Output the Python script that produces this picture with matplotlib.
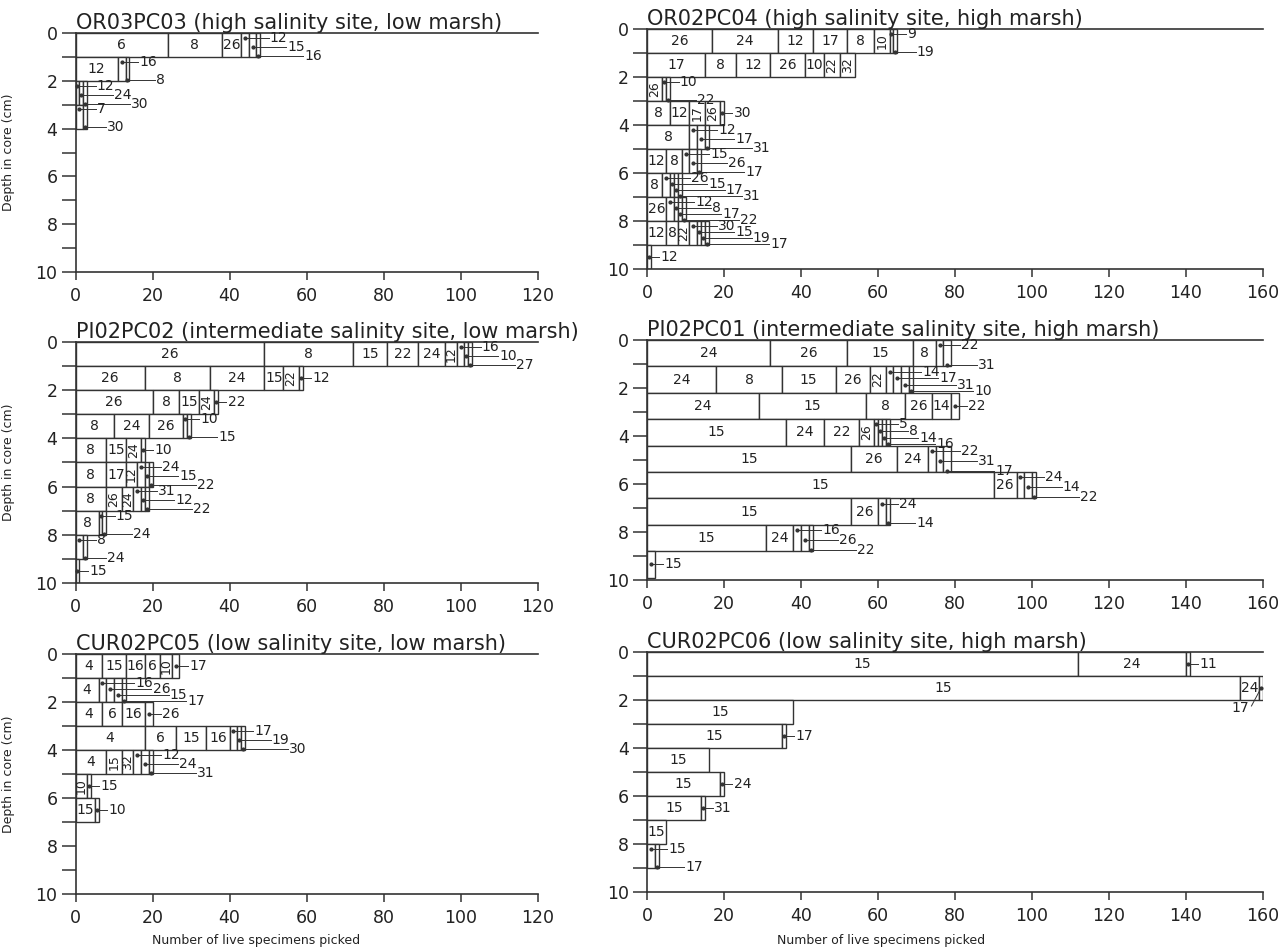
import matplotlib
matplotlib.use('Agg')
import matplotlib.pyplot as plt
from matplotlib.patches import Rectangle

plt.rcParams['font.family'] = ['DejaVu Sans']

# ---------------------------------------------------------------------------
# data: every core is a list of depth rows; each row has species codes and the
# number of live specimens picked for each species
# ---------------------------------------------------------------------------
or03pc03_top = [0, 1, 2, 3]
or03pc03_species = [[6, 8, 26, 12, 15, 16], [12, 16, 8], [12, 24, 30], [7, 30]]
or03pc03_counts = [[24, 14, 5, 2, 2, 1], [11, 2, 1], [1, 1, 1], [2, 1]]

or02pc04_top = [0, 1, 2, 3, 4, 5, 6, 7, 8, 9]
or02pc04_species = [[26, 24, 12, 17, 8, 10, 9, 19],
                    [17, 8, 12, 26, 10, 22, 32],
                    [26, 10, 22],
                    [8, 12, 17, 26, 30],
                    [8, 12, 17, 31],
                    [12, 8, 15, 26, 17],
                    [8, 26, 15, 17, 31],
                    [26, 12, 8, 17, 22],
                    [12, 8, 22, 30, 15, 19, 17],
                    [12]]
or02pc04_counts = [[17, 17, 9, 9, 7, 4, 1, 1],
                   [15, 8, 9, 9, 5, 4, 4],
                   [4, 1, 1],
                   [6, 5, 4, 4, 1],
                   [11, 2, 2, 1],
                   [5, 4, 2, 2, 1],
                   [4, 2, 1, 1, 1],
                   [5, 2, 1, 1, 1],
                   [5, 3, 3, 2, 1, 1, 1],
                   [1]]

pi02pc02_top = [0, 1, 2, 3, 4, 5, 6, 7, 8, 9]
pi02pc02_species = [[26, 8, 15, 22, 24, 12, 16, 10, 27],
                    [26, 8, 24, 15, 22, 12],
                    [26, 8, 15, 24, 22],
                    [8, 24, 26, 10, 15],
                    [8, 15, 24, 10],
                    [8, 17, 12, 24, 15, 22],
                    [8, 26, 24, 31, 12, 22],
                    [8, 15, 24],
                    [8, 24],
                    [15]]
pi02pc02_counts = [[49, 23, 9, 8, 7, 3, 2, 1, 1],
                   [18, 17, 14, 5, 4, 1],
                   [20, 7, 5, 4, 1],
                   [10, 9, 9, 1, 1],
                   [8, 5, 4, 1],
                   [8, 5, 3, 2, 1, 1],
                   [8, 4, 3, 2, 1, 1],
                   [6, 1, 1],
                   [2, 1],
                   [1]]

# this core was drawn with nine slices spread over the 10 cm
pi02pc01_top = [0, 1.1, 2.2, 3.3, 4.4, 5.5, 6.6, 7.7, 8.8]
pi02pc01_species = [[24, 26, 15, 8, 22, 31],
                    [24, 8, 15, 26, 22, 14, 17, 31, 10],
                    [24, 15, 8, 26, 14, 22],
                    [15, 24, 22, 26, 5, 8, 14, 16],
                    [15, 26, 24, 22, 31, 17],
                    [15, 26, 24, 14, 22],
                    [15, 26, 24, 14],
                    [15, 24, 16, 26, 22],
                    [15]]
pi02pc01_counts = [[32, 20, 17, 6, 2, 2],
                   [18, 17, 14, 9, 4, 2, 2, 2, 1],
                   [29, 28, 10, 7, 5, 2],
                   [36, 10, 9, 4, 1, 1, 1, 1],
                   [53, 12, 8, 2, 2, 2],
                   [90, 6, 2, 2, 1],
                   [53, 7, 2, 1],
                   [31, 7, 2, 2, 1],
                   [2]]

cur02pc05_top = [0, 1, 2, 3, 4, 5, 6]
cur02pc05_species = [[4, 15, 16, 6, 10, 17],
                     [4, 16, 26, 15, 17],
                     [4, 6, 16, 26],
                     [4, 6, 15, 16, 17, 19, 30],
                     [4, 15, 32, 12, 24, 31],
                     [10, 15],
                     [15, 10]]
cur02pc05_counts = [[7, 6, 5, 4, 3, 2],
                    [6, 2, 2, 2, 1],
                    [7, 5, 6, 2],
                    [18, 8, 8, 6, 2, 1, 1],
                    [8, 4, 3, 2, 2, 1],
                    [3, 1],
                    [5, 1]]

cur02pc06_top = [0, 1, 2, 3, 4, 5, 6, 7, 8]
cur02pc06_species = [[15, 24, 11], [15, 24, 17], [15], [15, 17], [15],
                     [15, 24], [15, 31], [15], [15, 17]]
cur02pc06_counts = [[112, 28, 1], [154, 5, 1], [38], [35, 1], [16],
                    [19, 1], [14, 1], [5], [2, 1]]

titles = ['OR03PC03 (high salinity site, low marsh)',
          'OR02PC04 (high salinity site, high marsh)',
          'PI02PC02 (intermediate salinity site, low marsh)',
          'PI02PC01 (intermediate salinity site, high marsh)',
          'CUR02PC05 (low salinity site, low marsh)',
          'CUR02PC06 (low salinity site, high marsh)']

LINE = '#333333'
INK = '#222222'


def draw_core(ax, tops, thick, species, counts, xmax):
    '''stacked boxes for one core, small ones get a leader label'''
    for top, sp_row, n_row in zip(tops, species, counts):
        left = 0
        leaders = []
        for sp, n in zip(sp_row, n_row):
            ax.add_patch(Rectangle((left, top), n, thick, facecolor='white',
                                   edgecolor=LINE, linewidth=1.0))
            lab = str(sp)
            cx = left + n / 2
            cy = top + thick / 2
            flat_room = 2.5 if len(lab) == 1 else 4.5
            if n >= flat_room:
                ax.text(cx, cy, lab, ha='center', va='center', fontsize=10,
                        color=INK)
            elif len(lab) == 2 and n >= 3:
                ax.text(cx, cy, lab, ha='center', va='center', fontsize=9,
                        color=INK, rotation=90)
            else:
                leaders.append((cx, lab))
            left += n
        end = left
        k = len(leaders)
        tx = end + 2.5
        for i, (cx, lab) in enumerate(leaders):
            if k == 1:
                y = top + thick * 0.5
            else:
                y = top + thick * (0.2 + 0.75 * i / (k - 1))
            w = 1.9 * len(lab)
            if tx + w > xmax + 2:
                # no room on the right: put it under the bar
                ax.plot([cx], [y], 'o', color=LINE, markersize=2, clip_on=False)
                ax.plot([cx, cx - 2.5], [y, top + thick * 1.25], color=LINE,
                        linewidth=0.7, clip_on=False)
                ax.text(cx - 3, top + thick * 1.35, lab, ha='right', va='center',
                        fontsize=10, color=INK, clip_on=False)
                continue
            ax.plot([cx], [y], 'o', color=LINE, markersize=2, clip_on=False)
            ax.plot([cx, tx - 0.3], [y, y], color=LINE, linewidth=0.7,
                    clip_on=False)
            ax.text(tx, y, lab, ha='left', va='center', fontsize=10, color=INK,
                    clip_on=False)
            tx += w + 0.7


def style_axes(ax, xmax, title):
    ax.set_xlim(0, xmax)
    ax.set_ylim(10, 0)
    ax.set_xticks(range(0, xmax + 1, 20))
    ax.set_yticks([0, 2, 4, 6, 8, 10])
    ax.set_yticks(range(0, 11), minor=True)
    ax.spines['right'].set_visible(False)
    for s in ['top', 'left', 'bottom']:
        ax.spines[s].set_linewidth(1.2)
        ax.spines[s].set_color(LINE)
    ax.tick_params(axis='y', which='both', direction='out', length=10,
                   width=1.1, colors=LINE, labelsize=12.5, labelcolor=INK, pad=3)
    ax.tick_params(axis='x', direction='out', length=6, width=1.1, colors=LINE,
                   labelsize=12.5, labelcolor=INK, pad=5)
    ax.set_title(title, loc='left', fontsize=15, color=INK, pad=2)


fig = plt.figure(figsize=(12.86, 9.48), dpi=100)
W, H = 1286.0, 948.0


def frame(x0, y0, x1, y1):
    return fig.add_axes([x0 / W, 1 - y1 / H, (x1 - x0) / W, (y1 - y0) / H])


axes = [frame(75.5, 33, 537.5, 272), frame(647, 29, 1263, 269),
        frame(75.5, 342, 537.5, 583), frame(647, 340, 1263, 580),
        frame(75.5, 654, 537.5, 894), frame(647, 652, 1263, 892)]

cores = [(or03pc03_top, 1, or03pc03_species, or03pc03_counts, 120),
         (or02pc04_top, 1, or02pc04_species, or02pc04_counts, 160),
         (pi02pc02_top, 1, pi02pc02_species, pi02pc02_counts, 120),
         (pi02pc01_top, 1.1, pi02pc01_species, pi02pc01_counts, 160),
         (cur02pc05_top, 1, cur02pc05_species, cur02pc05_counts, 120),
         (cur02pc06_top, 1, cur02pc06_species, cur02pc06_counts, 160)]

for ax, (tops, thick, sp, ct, xmax), title in zip(axes, cores, titles):
    style_axes(ax, xmax, title)
    draw_core(ax, tops, thick, sp, ct, xmax)

for ax in axes[0::2]:
    ax.set_ylabel('Depth in core (cm)', fontsize=9, color=INK)
    ax.yaxis.set_label_coords(-0.13, 0.5)

axes[4].set_xlabel('Number of live specimens picked', fontsize=9, color=INK)
axes[4].xaxis.set_label_coords(0.39, -0.165)
axes[5].set_xlabel('Number of live specimens picked', fontsize=9, color=INK)
axes[5].xaxis.set_label_coords(0.38, -0.175)

fig.savefig('out.png', dpi=100)
